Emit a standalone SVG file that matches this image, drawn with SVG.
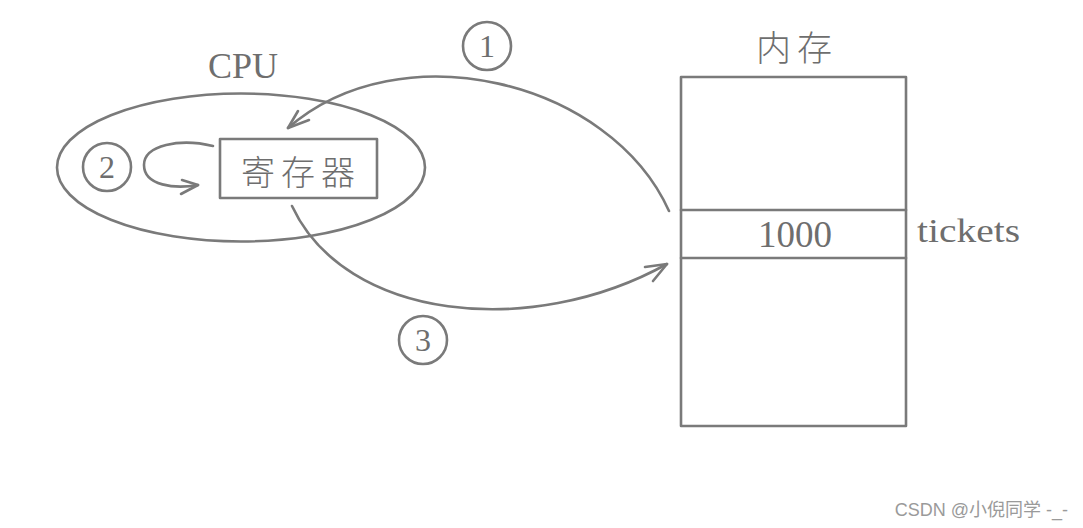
<svg xmlns="http://www.w3.org/2000/svg" width="1083" height="528" viewBox="0 0 1083 528">
<style>
.ln{fill:none;stroke:#7a7a7a;stroke-width:2.6;stroke-linecap:round;stroke-linejoin:round}
.tx{fill:#6e6e6e;font-family:"Liberation Serif","Noto Sans CJK SC",serif}
.cj{fill:#6e6e6e;font-family:"Noto Sans CJK SC","Liberation Serif",serif;font-weight:300}
</style>
<rect width="1083" height="528" fill="#ffffff"/>
<g id="cpu">
<ellipse class="ln" cx="241" cy="167.5" rx="184" ry="74"/>
<text class="tx" x="243" y="78" font-size="36" text-anchor="middle">CPU</text>
</g>
<g id="register">
<rect class="ln" x="220" y="139" width="157" height="59"/>
<text class="cj" x="301" y="185" font-size="34" letter-spacing="6" text-anchor="middle">寄存器</text>
</g>
<g id="memory">
<rect class="ln" x="681" y="77" width="225" height="349"/>
<line class="ln" x1="681" y1="210" x2="906" y2="210"/>
<line class="ln" x1="681" y1="258" x2="906" y2="258"/>
<text class="tx" x="795" y="247" font-size="37" text-anchor="middle">1000</text>
<text class="cj" x="797" y="61" font-size="35" letter-spacing="6" text-anchor="middle">内存</text>
<text class="tx" x="917" y="242" font-size="34" textLength="103" lengthAdjust="spacingAndGlyphs">tickets</text>
</g>
<g id="step1">
<circle class="ln" cx="487" cy="46" r="24"/>
<text class="tx" x="487" y="57" font-size="32" text-anchor="middle">1</text>
</g>
<g id="step2">
<circle class="ln" cx="107" cy="167" r="24"/>
<text class="tx" x="107" y="178" font-size="32" text-anchor="middle">2</text>
</g>
<g id="step3">
<circle class="ln" cx="423" cy="340" r="24"/>
<text class="tx" x="423" y="351" font-size="32" text-anchor="middle">3</text>
</g>
<g id="connectors">
<path class="ln" d="M 669 211 C 610 80, 400 30, 288 128"/>
<polyline class="ln" points="298,111 288,128 309,120"/>
<path class="ln" d="M 213 146 C 180 138, 144 145, 144 165 C 144 186, 175 189, 198 185"/>
<polyline class="ln" points="182,180 198,185 181,194"/>
<path class="ln" d="M 292 206 C 345 320, 530 340, 667 264"/>
<polyline class="ln" points="645,267 667,264 653,281"/>
</g>
<text x="1068" y="516" font-size="18" fill="#9a9a9a" text-anchor="end" font-family="'Liberation Sans','Noto Sans CJK SC',sans-serif">CSDN @小倪同学 -_-</text>
</svg>
